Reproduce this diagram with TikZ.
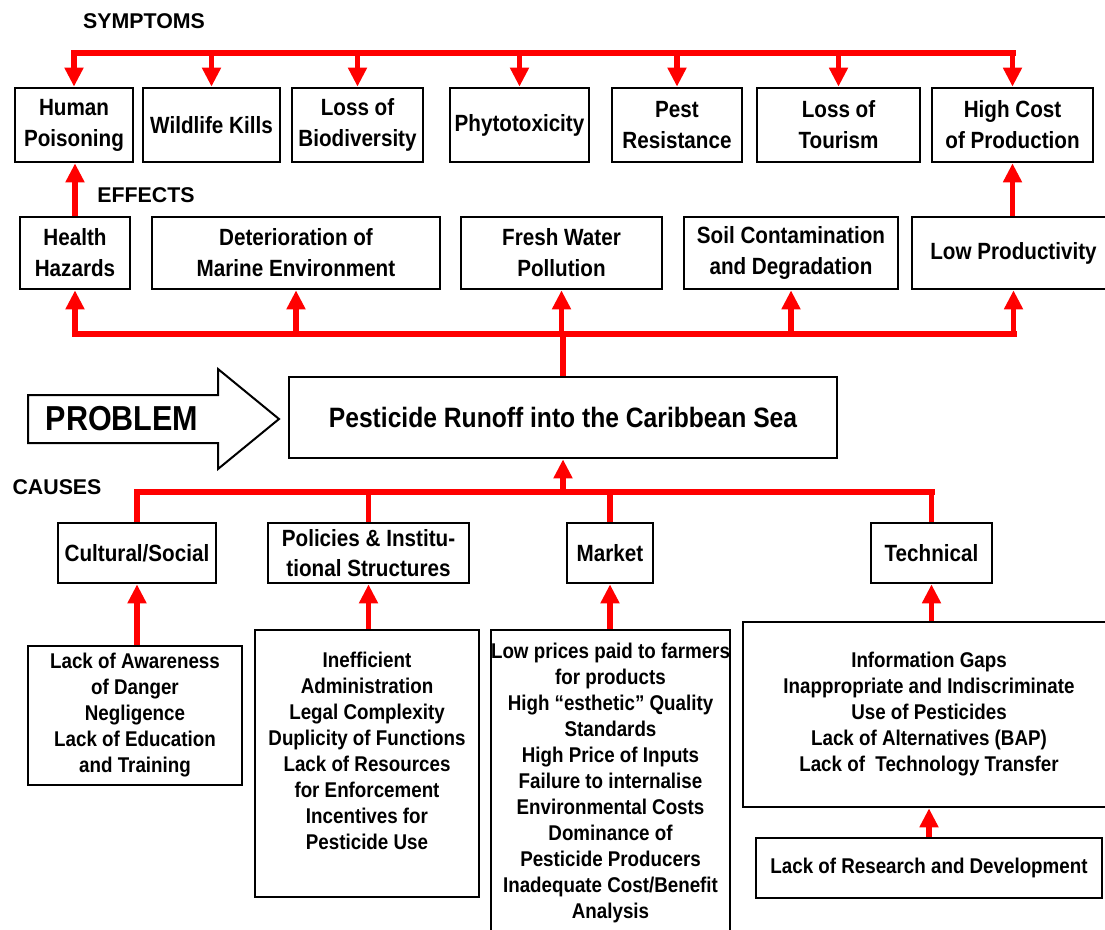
\documentclass[tikz,border=0pt]{standalone}
\usepackage{fontspec}
\setmainfont{Liberation Sans}
\newfontfamily\narrowsf[FakeStretch=0.88]{Liberation Sans}
\usetikzlibrary{arrows.meta}

\tikzset{every picture/.style={line width=0.75pt}}
\tikzset{
  box/.style={draw, line width=2pt, inner sep=0pt, align=center,
    font=\narrowsf\bfseries\fontsize{17.6}{23.25}\selectfont},
  detail/.style={box, font=\narrowsf\bfseries\fontsize{16}{19.5}\selectfont},
  heading/.style={inner sep=0pt, font=\bfseries\fontsize{16}{19}\selectfont},
  bus/.style={draw=red, line width=5pt, line cap=rect},
  link/.style={draw=red, line width=4.25pt},
  arr/.style={link, -{Triangle[width=13.5pt,length=14.25pt]}},
}

\begin{document}
\begin{tikzpicture}[x=0.75pt,y=0.75pt,yscale=-1,xscale=1]
\useasboundingbox (0,0) rectangle (1105,930);

% Text Node
\node[heading] (symlbl) at (144,21) {SYMPTOMS};
\node[heading] (efflbl) at (146,195) {EFFECTS};
\node[heading] (causlbl) at (57,487) {CAUSES};

%Symptoms row
\node[box, minimum width=88.5pt, minimum height=55.5pt] (hp) at (74,125) {Human\\Poisoning};
\node[box, minimum width=102.75pt, minimum height=55.5pt] (wk) at (211.5,125) {Wildlife Kills};
\node[box, minimum width=98.25pt, minimum height=55.5pt] (lb) at (357.5,125) {Loss of\\Biodiversity};
\node[box, minimum width=104.25pt, minimum height=55.5pt] (ph) at (519.5,125) {Phytotoxicity};
\node[box, minimum width=97.5pt, minimum height=55.5pt] (pr) at (677,125) {Pest\\Resistance};
\node[box, minimum width=122.25pt, minimum height=55.5pt] (lt) at (838.5,125) {Loss of\\Tourism};
\node[box, minimum width=120.75pt, minimum height=55.5pt] (hc) at (1012.5,125) {High Cost\\of Production};

%Effects row
\node[box, minimum width=82.5pt, minimum height=54pt] (hh) at (75,253) {Health\\Hazards};
\node[box, minimum width=216pt, minimum height=54pt] (dm) at (296,253) {Deterioration of\\Marine Environment};
\node[box, minimum width=150.75pt, minimum height=54pt] (fw) at (561.5,253) {Fresh Water\\Pollution};
\node[box, minimum width=160.5pt, minimum height=54pt] (sc) at (791,253) {Soil Contamination\\and Degradation};
\node[box, minimum width=152.25pt, minimum height=54pt] (lp) at (1013.5,253) {Low Productivity};

%Problem
\draw[line width=1.5pt, fill=white] (28,395) -- (218,395) -- (218,369) -- (279,419) -- (218,469) -- (218,443) -- (28,443) -- cycle;
\node[inner sep=0pt, font=\narrowsf\bfseries\fontsize{26}{30}\selectfont] (problbl) at (122,419) {PROBLEM};
\node[box, minimum width=411pt, minimum height=60.75pt, font=\narrowsf\bfseries\fontsize{21}{25}\selectfont] (prob) at (563,417.5) {Pesticide Runoff into the Caribbean Sea};

%Causes row
\node[box, minimum width=118.5pt, minimum height=45pt] (cs) at (137,553) {Cultural/Social};
\node[box, minimum width=150.75pt, minimum height=45pt, font=\narrowsf\bfseries\fontsize{17.6}{22}\selectfont] (pi) at (368.5,553) {Policies \& Institu-\\tional Structures};
\node[box, minimum width=64.5pt, minimum height=45pt] (mk) at (610,553) {Market};
\node[box, minimum width=90.75pt, minimum height=45pt] (te) at (931.5,553) {Technical};

%Cause details
\node[detail, minimum width=160.5pt, minimum height=104.25pt] (csd) at (135,715.5) {Lack of Awareness\\of Danger\\Negligence\\Lack of Education\\and Training};
\node[detail, minimum width=168pt, minimum height=200.25pt] (pid) at (367,763.5) {Inefficient\\Administration\\Legal Complexity\\Duplicity of Functions\\Lack of Resources\\for Enforcement\\Incentives for\\Pesticide Use\\\mbox{}};
\node[detail, minimum width=179.25pt, minimum height=228.75pt] (mkd) at (610.5,782.5) {Low prices paid to farmers\\for products\\High “esthetic” Quality\\Standards\\High Price of Inputs\\Failure to internalise\\Environmental Costs\\Dominance of\\Pesticide Producers\\Inadequate Cost/Benefit\\Analysis};
\node[detail, minimum width=279pt, minimum height=138.75pt] (ted) at (929,714.5) {Information Gaps\\Inappropriate and Indiscriminate\\Use of Pesticides\\Lack of Alternatives (BAP)\\Lack of~ Technology Transfer};
\node[detail, minimum width=259.5pt, minimum height=45pt] (rd) at (929,868) {Lack of Research and Development};

%Symptoms bus
\coordinate (symL) at (74,53);
\coordinate (symR) at (1012.5,53);
\draw[bus] (symL) -- (symR);
\foreach \n in {hp,wk,lb,ph,pr,lt,hc}
  \draw[arr] (\n.north |- symL) -- (\n.north);

%Effects bus
\coordinate (effL) at (75,334);
\coordinate (effR) at (1013.5,334);
\draw[bus] (effL) -- (effR);
\draw[link] (prob.north) -- (prob.north |- effL);
\foreach \n in {hh,dm,fw,sc,lp}
  \draw[arr] (\n.south |- effL) -- (\n.south);
\draw[arr] (hh.north) -- (hh.north |- hp.south);
\draw[arr] (hc.south |- lp.north) -- (hc.south);

%Causes bus
\coordinate (causL) at (137,492);
\coordinate (causR) at (931.5,492);
\draw[bus] (causL) -- (causR);
\draw[arr] (prob.south |- causL) -- (prob.south);
\foreach \n in {cs,pi,mk,te}
  \draw[link] (\n.north |- causL) -- (\n.north);
\draw[arr] (cs.south |- csd.north) -- (cs.south);
\draw[arr] (pi.south |- pid.north) -- (pi.south);
\draw[arr] (mk.south |- mkd.north) -- (mk.south);
\draw[arr] (te.south |- ted.north) -- (te.south);
\draw[arr] (rd.north) -- (ted.south);

\end{tikzpicture}
\end{document}
